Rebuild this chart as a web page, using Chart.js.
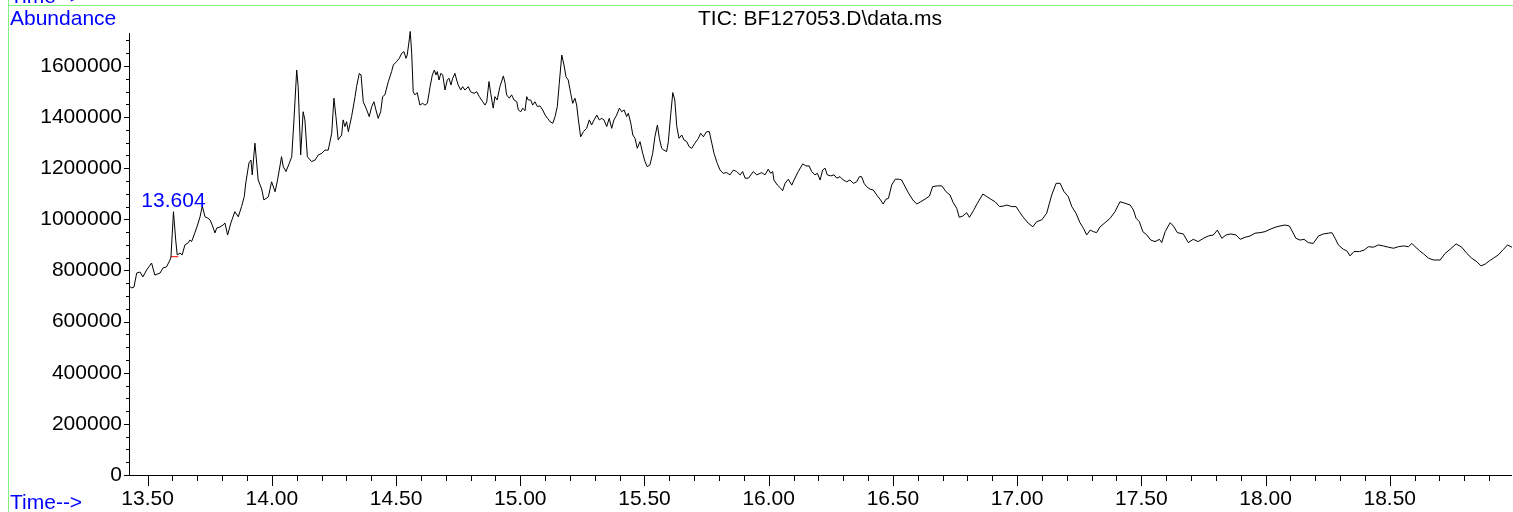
<!DOCTYPE html>
<html>
<head>
<meta charset="utf-8">
<title>TIC: BF127053.D\data.ms</title>
<script src="https://cdn.jsdelivr.net/npm/chart.js@4/dist/chart.umd.min.js"></script>
<style>
  html, body { margin: 0; padding: 0; background: #fff; }
  canvas { display: block; }
</style>
</head>
<body>
<canvas id="tic" width="1513" height="512"></canvas>
<script>
// retention time (min)
const times = [
  13.425, 13.436, 13.445, 13.456, 13.469, 13.481, 13.496, 13.516, 13.529, 13.550,
  13.562, 13.576, 13.590, 13.594, 13.604, 13.613, 13.619, 13.630, 13.639, 13.650,
  13.663, 13.670, 13.677, 13.690, 13.701, 13.711, 13.720, 13.731, 13.742, 13.751,
  13.760, 13.771, 13.778, 13.791, 13.804, 13.811, 13.822, 13.835, 13.851, 13.865,
  13.878, 13.889, 13.895, 13.908, 13.916, 13.921, 13.932, 13.945, 13.959, 13.968,
  13.986, 13.999, 14.013, 14.023, 14.039, 14.046, 14.057, 14.070, 14.080, 14.089,
  14.100, 14.106, 14.116, 14.126, 14.133, 14.143, 14.160, 14.174, 14.187, 14.201,
  14.214, 14.227, 14.241, 14.250, 14.258, 14.267, 14.281, 14.287, 14.294, 14.301,
  14.308, 14.321, 14.335, 14.341, 14.352, 14.359, 14.368, 14.382, 14.392, 14.402,
  14.411, 14.419, 14.428, 14.438, 14.446, 14.455, 14.469, 14.482, 14.489, 14.502,
  14.513, 14.523, 14.532, 14.540, 14.545, 14.553, 14.557, 14.563, 14.569, 14.576,
  14.585, 14.596, 14.607, 14.616, 14.626, 14.637, 14.646, 14.654, 14.661, 14.666,
  14.673, 14.680, 14.688, 14.697, 14.706, 14.713, 14.721, 14.728, 14.737, 14.744,
  14.750, 14.760, 14.768, 14.777, 14.791, 14.800, 14.814, 14.825, 14.835, 14.849,
  14.858, 14.865, 14.874, 14.881, 14.891, 14.898, 14.907, 14.918, 14.932, 14.939,
  14.945, 14.956, 14.965, 14.975, 14.986, 14.992, 15.002, 15.010, 15.019, 15.026,
  15.032, 15.042, 15.050, 15.059, 15.069, 15.079, 15.090, 15.100, 15.110, 15.120,
  15.131, 15.140, 15.149, 15.157, 15.167, 15.176, 15.184, 15.193, 15.203, 15.211,
  15.220, 15.227, 15.234, 15.243, 15.254, 15.267, 15.278, 15.287, 15.297, 15.308,
  15.318, 15.328, 15.337, 15.348, 15.358, 15.368, 15.377, 15.388, 15.399, 15.408,
  15.418, 15.428, 15.435, 15.445, 15.453, 15.462, 15.471, 15.482, 15.493, 15.502,
  15.511, 15.522, 15.533, 15.542, 15.552, 15.560, 15.569, 15.578, 15.589, 15.596,
  15.606, 15.614, 15.622, 15.630, 15.639, 15.650, 15.659, 15.670, 15.680, 15.690,
  15.703, 15.717, 15.726, 15.737, 15.750, 15.761, 15.771, 15.780, 15.793, 15.804,
  15.817, 15.831, 15.844, 15.858, 15.871, 15.885, 15.895, 15.905, 15.918, 15.938,
  15.952, 15.972, 15.985, 15.998, 16.008, 16.016, 16.021, 16.035, 16.048, 16.056,
  16.066, 16.079, 16.093, 16.102, 16.119, 16.137, 16.150, 16.163, 16.173, 16.186,
  16.196, 16.207, 16.217, 16.227, 16.236, 16.250, 16.263, 16.274, 16.287, 16.300,
  16.314, 16.327, 16.341, 16.354, 16.365, 16.374, 16.384, 16.394, 16.408, 16.421,
  16.435, 16.448, 16.461, 16.472, 16.482, 16.495, 16.509, 16.526, 16.535, 16.549,
  16.562, 16.580, 16.596, 16.612, 16.629, 16.647, 16.660, 16.679, 16.697, 16.714,
  16.730, 16.743, 16.757, 16.767, 16.781, 16.797, 16.808, 16.824, 16.840, 16.862,
  16.878, 16.894, 16.911, 16.929, 16.945, 16.958, 16.978, 16.996, 17.009, 17.025,
  17.045, 17.063, 17.079, 17.099, 17.119, 17.139, 17.157, 17.173, 17.189, 17.206,
  17.220, 17.237, 17.253, 17.267, 17.280, 17.294, 17.307, 17.320, 17.334, 17.354,
  17.374, 17.394, 17.414, 17.434, 17.455, 17.468, 17.479, 17.492, 17.506, 17.522,
  17.538, 17.555, 17.573, 17.582, 17.596, 17.616, 17.629, 17.645, 17.669, 17.689,
  17.709, 17.729, 17.750, 17.770, 17.790, 17.806, 17.824, 17.841, 17.860, 17.881,
  17.898, 17.918, 17.938, 17.958, 17.978, 17.998, 18.018, 18.038, 18.058, 18.078,
  18.096, 18.105, 18.122, 18.139, 18.155, 18.172, 18.192, 18.213, 18.233, 18.253,
  18.267, 18.280, 18.293, 18.313, 18.327, 18.340, 18.356, 18.378, 18.397, 18.414,
  18.434, 18.454, 18.474, 18.495, 18.515, 18.535, 18.555, 18.575, 18.589, 18.602,
  18.620, 18.636, 18.656, 18.676, 18.703, 18.723, 18.743, 18.767, 18.790, 18.810,
  18.830, 18.851, 18.867, 18.884, 18.901, 18.917, 18.937, 18.958, 18.974, 18.992
];

// total ion current
const abundance = [
  739000, 732000, 735000, 790000, 794000, 775000, 802000, 829000, 782000, 790000,
  810000, 814000, 841000, 853000, 1030000, 919000, 861000, 868000, 861000, 900000,
  908000, 919000, 913000, 947000, 978000, 1010000, 1052000, 1010000, 1005000, 998000,
  978000, 947000, 966000, 970000, 978000, 986000, 939000, 986000, 1030000, 1010000,
  1050000, 1089000, 1142000, 1221000, 1232000, 1174000, 1298000, 1154000, 1119000, 1076000,
  1088000, 1147000, 1108000, 1154000, 1245000, 1206000, 1187000, 1219000, 1245000, 1389000,
  1584000, 1519000, 1252000, 1421000, 1389000, 1245000, 1226000, 1232000, 1252000, 1258000,
  1271000, 1271000, 1337000, 1474000, 1402000, 1311000, 1330000, 1389000, 1363000, 1382000,
  1343000, 1402000, 1480000, 1519000, 1571000, 1565000, 1460000, 1428000, 1402000, 1441000,
  1460000, 1428000, 1395000, 1421000, 1480000, 1487000, 1539000, 1578000, 1604000, 1617000,
  1630000, 1650000, 1656000, 1630000, 1643000, 1702000, 1735000, 1650000, 1499000, 1487000,
  1496000, 1447000, 1454000, 1447000, 1454000, 1519000, 1565000, 1584000, 1565000, 1578000,
  1545000, 1571000, 1565000, 1506000, 1545000, 1552000, 1526000, 1552000, 1571000, 1545000,
  1526000, 1506000, 1519000, 1506000, 1519000, 1499000, 1493000, 1499000, 1480000, 1460000,
  1447000, 1460000, 1539000, 1493000, 1435000, 1480000, 1467000, 1519000, 1561000, 1532000,
  1487000, 1474000, 1487000, 1467000, 1460000, 1428000, 1421000, 1435000, 1425000, 1480000,
  1467000, 1467000, 1447000, 1460000, 1441000, 1444000, 1428000, 1408000, 1395000, 1382000,
  1376000, 1402000, 1441000, 1532000, 1643000, 1604000, 1558000, 1545000, 1493000, 1454000,
  1474000, 1447000, 1389000, 1323000, 1343000, 1356000, 1389000, 1369000, 1389000, 1408000,
  1389000, 1395000, 1389000, 1363000, 1395000, 1356000, 1389000, 1408000, 1435000, 1421000,
  1428000, 1402000, 1415000, 1376000, 1330000, 1317000, 1278000, 1304000, 1258000, 1226000,
  1206000, 1213000, 1258000, 1323000, 1369000, 1317000, 1278000, 1271000, 1265000, 1304000,
  1415000, 1496000, 1467000, 1363000, 1317000, 1330000, 1311000, 1304000, 1284000, 1278000,
  1298000, 1317000, 1337000, 1323000, 1343000, 1343000, 1298000, 1258000, 1219000, 1193000,
  1180000, 1183000, 1174000, 1193000, 1187000, 1174000, 1187000, 1161000, 1161000, 1187000,
  1174000, 1183000, 1174000, 1196000, 1180000, 1187000, 1154000, 1134000, 1122000, 1112000,
  1141000, 1157000, 1134000, 1154000, 1187000, 1217000, 1209000, 1209000, 1187000, 1174000,
  1180000, 1154000, 1193000, 1200000, 1174000, 1170000, 1174000, 1161000, 1167000, 1154000,
  1147000, 1154000, 1141000, 1147000, 1167000, 1167000, 1141000, 1128000, 1118000, 1115000,
  1095000, 1079000, 1060000, 1079000, 1082000, 1134000, 1157000, 1157000, 1154000, 1128000,
  1104000, 1076000, 1060000, 1069000, 1079000, 1091000, 1128000, 1131000, 1131000, 1108000,
  1095000, 1065000, 1043000, 1008000, 1013000, 1026000, 1008000, 1034000, 1063000, 1099000,
  1089000, 1079000, 1069000, 1050000, 1052000, 1056000, 1050000, 1050000, 1030000, 1008000,
  985000, 971000, 991000, 998000, 1024000, 1095000, 1141000, 1141000, 1108000, 1089000,
  1050000, 1024000, 987000, 965000, 939000, 958000, 952000, 948000, 971000, 987000,
  1004000, 1030000, 1069000, 1063000, 1056000, 1037000, 1004000, 991000, 952000, 939000,
  919000, 913000, 922000, 909000, 952000, 987000, 974000, 948000, 943000, 909000,
  922000, 913000, 926000, 935000, 939000, 958000, 926000, 939000, 943000, 939000,
  922000, 930000, 935000, 946000, 948000, 952000, 961000, 969000, 974000, 978000,
  974000, 958000, 926000, 919000, 922000, 909000, 906000, 935000, 943000, 946000,
  948000, 926000, 900000, 883000, 877000, 857000, 874000, 874000, 880000, 893000,
  891000, 900000, 896000, 891000, 887000, 893000, 896000, 893000, 906000, 893000,
  877000, 865000, 848000, 841000, 841000, 867000, 883000, 904000, 891000, 867000,
  848000, 834000, 818000, 825000, 838000, 848000, 861000, 883000, 900000, 891000
];

const xTickLabels = [13.5, 14.0, 14.5, 15.0, 15.5, 16.0, 16.5, 17.0, 17.5, 18.0, 18.5];
const yTickLabels = [0, 200000, 400000, 600000, 800000, 1000000, 1200000, 1400000, 1600000];

// integrated peak and its baseline
const peakTime = 13.604;
const peakAbundance = 1030000;
const baselineTimes = [13.594, 13.623];
const baselineValues = [854000, 854000];

const FONT = '"Liberation Sans", Arial, sans-serif';
Chart.defaults.font.family = FONT;
Chart.defaults.font.size = 21;
Chart.defaults.color = '#000';

// frame, minor ticks and the blue labels
const chromDecor = {
    id: 'chromDecor',
    beforeDraw(chart) {
        const ctx = chart.ctx;
        ctx.save();
        ctx.fillStyle = '#fff';
        ctx.fillRect(0, 0, chart.width, chart.height);
        ctx.strokeStyle = '#80f080';
        ctx.lineWidth = 1;
        ctx.beginPath();
        ctx.moveTo(8.5, 0); ctx.lineTo(8.5, chart.height);
        ctx.moveTo(8, 5.5); ctx.lineTo(chart.width, 5.5);
        ctx.stroke();
        ctx.restore();
    },
    afterDraw(chart) {
        const ctx = chart.ctx;
        const xs = chart.scales.x;
        const ys = chart.scales.y;
        ctx.save();
        ctx.strokeStyle = '#000';
        ctx.lineWidth = 1;
        ctx.beginPath();
        for (let i = 0; i <= 54; i++) {
            const px = Math.round(xs.getPixelForValue(13.5 + i * 0.1)) + 0.5;
            const len = i % 5 === 0 ? 11 : 6;
            ctx.moveTo(px, xs.top); ctx.lineTo(px, xs.top + len);
        }
        for (let i = 0; i * 50000 <= ys.max; i++) {
            const py = Math.round(ys.getPixelForValue(i * 50000)) + 0.5;
            const len = i % 4 === 0 ? 5 : 3;
            ctx.moveTo(ys.right - len, py); ctx.lineTo(ys.right, py);
        }
        ctx.stroke();

        ctx.font = '21px ' + FONT;
        ctx.fillStyle = '#0000ff';
        ctx.textAlign = 'left';
        ctx.textBaseline = 'alphabetic';
        ctx.fillText('Time-->', 10, 3);
        ctx.fillText('Abundance', 10, 25);
        ctx.fillText('Time-->', 10, 509);
        ctx.textAlign = 'center';
        ctx.fillText(peakTime.toFixed(3), xs.getPixelForValue(peakTime), ys.getPixelForValue(peakAbundance) - 5);
        ctx.restore();
    }
};

new Chart(document.getElementById('tic'), {
    type: 'line',
    data: {
        datasets: [{
            label: 'TIC',
            data: times.map((t, i) => ({ x: t, y: abundance[i] })),
            borderColor: '#000',
            borderWidth: 1,
            pointRadius: 0,
            tension: 0,
            clip: false
        }, {
            label: 'baseline',
            data: baselineTimes.map((t, i) => ({ x: t, y: baselineValues[i] })),
            borderColor: '#ff0000',
            borderWidth: 1,
            pointRadius: 0
        }]
    },
    options: {
        responsive: false,
        animation: false,
        devicePixelRatio: 1,
        layout: { padding: { left: 0, right: 2, top: 0, bottom: 0 } },
        scales: {
            x: {
                type: 'linear',
                min: 13.425,
                max: 18.988,
                afterFit(scale) { scale.height = 37; },
                afterBuildTicks(scale) { scale.ticks = xTickLabels.map(v => ({ value: v })); },
                grid: { display: false, drawTicks: false },
                border: { display: true, color: '#000', width: 1 },
                ticks: {
                    padding: 12,
                    maxRotation: 0,
                    autoSkip: false,
                    color: '#000',
                    callback: v => Number(v).toFixed(2)
                }
            },
            y: {
                type: 'linear',
                min: 0,
                max: 1729000,
                afterFit(scale) { scale.width = 129; },
                afterBuildTicks(scale) { scale.ticks = yTickLabels.map(v => ({ value: v })); },
                grid: { display: false, drawTicks: false },
                border: { display: true, color: '#000', width: 1 },
                ticks: {
                    padding: 7,
                    color: '#000',
                    callback: v => String(v)
                }
            }
        },
        plugins: {
            legend: { display: false },
            tooltip: { enabled: false },
            title: {
                display: true,
                text: 'TIC: BF127053.D\\data.ms',
                color: '#000',
                fullSize: false,
                font: { size: 21, weight: 'normal' },
                padding: { top: 7, bottom: 0.8 }
            }
        }
    },
    plugins: [chromDecor]
});
</script>
</body>
</html>
